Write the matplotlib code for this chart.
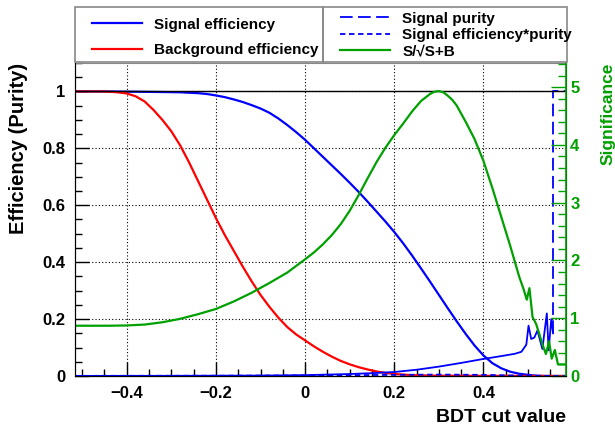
"""TMVA-style cut efficiency plot for the BDT classifier (efficiency, purity, significance)."""
import matplotlib
matplotlib.use("Agg")
import matplotlib.pyplot as plt
from matplotlib.patches import Rectangle
from matplotlib.ticker import MultipleLocator, FuncFormatter

plt.rcParams["font.family"] = ["Liberation Sans", "DejaVu Sans"]
plt.rcParams["font.weight"] = "bold"
plt.rcParams["axes.labelweight"] = "bold"

BLUE, RED, GREEN = "#0000ff", "#ff0000", "#00a000"

# values
sig_eff_x = [-0.516, -0.44, -0.38, -0.32, -0.28, -0.24, -0.22, -0.20, -0.18, -0.16, -0.14,
             -0.12, -0.10, -0.08, -0.06, -0.04, -0.02, 0.00, 0.02, 0.04, 0.06, 0.08, 0.10,
             0.12, 0.14, 0.16, 0.18, 0.20, 0.22, 0.24, 0.26, 0.28, 0.30, 0.32, 0.34, 0.36,
             0.38, 0.40, 0.42, 0.44, 0.46, 0.48, 0.50, 0.52, 0.54, 0.584]
sig_eff_y = [1.000, 1.000, 0.999, 0.998, 0.997, 0.994, 0.991, 0.986, 0.980, 0.972, 0.963,
             0.952, 0.940, 0.925, 0.905, 0.882, 0.857, 0.830, 0.800, 0.770, 0.740, 0.710, 0.679,
             0.647, 0.613, 0.578, 0.543, 0.506, 0.466, 0.423, 0.378, 0.332, 0.285, 0.238, 0.192,
             0.148, 0.107, 0.072, 0.045, 0.027, 0.015, 0.008, 0.004, 0.001, 0.0, 0.0]

bkg_eff_x = [-0.516, -0.46, -0.44, -0.42, -0.40, -0.38, -0.36, -0.34, -0.32, -0.30, -0.28,
             -0.26, -0.24, -0.22, -0.20, -0.18, -0.16, -0.14, -0.12, -0.10, -0.08, -0.06,
             -0.04, -0.02, 0.00, 0.02, 0.04, 0.06, 0.08, 0.10, 0.12, 0.14, 0.16, 0.18, 0.20,
             0.24, 0.30, 0.584]
bkg_eff_y = [1.000, 1.000, 0.999, 0.997, 0.993, 0.983, 0.965, 0.935, 0.900, 0.860, 0.810,
             0.750, 0.685, 0.620, 0.555, 0.495, 0.440, 0.385, 0.333, 0.285, 0.243, 0.205,
             0.172, 0.146, 0.125, 0.104, 0.085, 0.068, 0.053, 0.041, 0.031, 0.023, 0.016, 0.011, 0.007,
             0.003, 0.001, 0.0]

purity_x = [-0.516, -0.30, -0.10, 0.00, 0.05, 0.10, 0.15, 0.20, 0.25, 0.30, 0.35, 0.40,
            0.44, 0.47, 0.485, 0.496, 0.501, 0.507, 0.514, 0.521, 0.532, 0.542, 0.546,
            0.552, 0.556, 0.556, 0.584]
purity_y = [0.0003, 0.0006, 0.0015, 0.003, 0.005, 0.007, 0.010, 0.014, 0.022, 0.033, 0.046, 0.060,
            0.070, 0.078, 0.085, 0.110, 0.177, 0.130, 0.135, 0.160, 0.095, 0.220, 0.090,
            0.200, 0.150, 1.0, 1.0]

effpur_x = [-0.516, -0.20, 0.00, 0.20, 0.30, 0.40, 0.46, 0.52, 0.584]
effpur_y = [0.0005, 0.001, 0.002, 0.004, 0.005, 0.004, 0.002, 0.0005, 0.0]

signif_x = [-0.516, -0.44, -0.40, -0.36, -0.32, -0.28, -0.24, -0.20, -0.16, -0.12, -0.08,
            -0.04, 0.00, 0.02, 0.04, 0.06, 0.08, 0.10, 0.12, 0.14, 0.16, 0.18, 0.20, 0.22,
            0.24, 0.26, 0.28, 0.29, 0.30, 0.31, 0.32, 0.33, 0.34, 0.36, 0.38, 0.40, 0.42,
            0.44, 0.46, 0.48, 0.49, 0.497, 0.503, 0.51, 0.518, 0.525, 0.532, 0.54, 0.547,
            0.553, 0.56, 0.567, 0.584]
signif_y = [0.87, 0.87, 0.875, 0.89, 0.93, 0.99, 1.07, 1.16, 1.29, 1.44, 1.61,
            1.79, 2.02, 2.14, 2.28, 2.44, 2.63, 2.86, 3.13, 3.42, 3.70, 3.95, 4.17, 4.37,
            4.58, 4.76, 4.88, 4.92, 4.93, 4.91, 4.85, 4.78, 4.68, 4.40, 4.10, 3.72, 3.25,
            2.75, 2.25, 1.72, 1.50, 1.32, 1.52, 1.02, 0.90, 0.73, 0.55, 0.38, 0.60,
            0.30, 0.45, 0.20, 0.20]

n_solid = 25  # purity looks solid up to the last jump, dashed afterwards


def root_fmt(v, _pos):
    s = f"{round(v, 4):g}"
    return s.replace("-", "\u2212")


W, H = 615, 428
fig = plt.figure(figsize=(W / 100, H / 100), dpi=100)
ax = fig.add_axes([75 / W, 52 / H, 491 / W, 313 / H])

l_sig, = ax.plot(sig_eff_x, sig_eff_y, color=BLUE, lw=1.6)
l_bkg, = ax.plot(bkg_eff_x, bkg_eff_y, color=RED, lw=1.6)
ax.plot(purity_x[:n_solid], purity_y[:n_solid], color=BLUE, lw=1.3)
ax.plot(purity_x[n_solid - 1:], purity_y[n_solid - 1:], color=BLUE, lw=1.3, ls=(0, (7, 3)))
l_pur, = ax.plot([], [], color=BLUE, lw=1.3, ls=(0, (7, 3)))
l_ep, = ax.plot(effpur_x, effpur_y, color=BLUE, lw=1.3, ls=(0, (3, 2)))
ax.axhline(1.0, color="k", lw=1.0)

ax.set_xlim(-0.516, 0.585)
ax.set_ylim(0, 1.1)
ax.xaxis.set_major_locator(MultipleLocator(0.2))
ax.xaxis.set_minor_locator(MultipleLocator(0.05))
ax.yaxis.set_major_locator(MultipleLocator(0.2))
ax.yaxis.set_minor_locator(MultipleLocator(0.05))
ax.xaxis.set_major_formatter(FuncFormatter(root_fmt))
ax.yaxis.set_major_formatter(FuncFormatter(root_fmt))
ax.grid(which="major", color="k", lw=0.8, ls=(0, (1, 2)))
ax.tick_params(which="both", direction="in", top=False, right=False, labelsize=12)
ax.tick_params(which="major", length=10, width=1, pad=7)
ax.tick_params(which="minor", length=5, width=1)
ax.spines["top"].set_color("#888888")
ax.set_xlabel("BDT cut value", loc="right", fontsize=14, labelpad=6)
ax.set_ylabel("Efficiency (Purity)", loc="top", fontsize=14.5, labelpad=10)

ax2 = ax.twinx()
l_sb, = ax2.plot(signif_x, signif_y, color=GREEN, lw=1.6)
ax2.set_ylim(0, 5.417)
ax2.yaxis.set_major_locator(MultipleLocator(1))
ax2.yaxis.set_minor_locator(MultipleLocator(0.2))
ax2.yaxis.set_major_formatter(FuncFormatter(root_fmt))
ax2.spines["right"].set_color(GREEN)
ax2.spines["right"].set_linewidth(1.2)
ax2.spines["top"].set_visible(False)
ax2.tick_params(which="both", direction="in", colors=GREEN, labelsize=12, pad=3)
ax2.tick_params(which="major", length=11, width=1)
ax2.tick_params(which="minor", length=6, width=1)
ax2.set_ylabel("Significance", color=GREEN, loc="top", fontsize=12.5, labelpad=15)

# two legend boxes above the frame, ROOT style
for x0, x1 in [(75, 323), (323, 567)]:
    fig.patches.append(Rectangle((x0 / W, 1 - 62 / H), (x1 - x0) / W, 55 / H,
                                 transform=fig.transFigure, fill=False,
                                 edgecolor="#888888", lw=1.2))
fig.legend([l_sig, l_bkg], ["Signal efficiency", "Background efficiency"],
           loc="upper left", bbox_to_anchor=(84 / W, 1 - 10 / H), frameon=False,
           fontsize=11, borderpad=0, labelspacing=0.75, handlelength=3.3,
           handletextpad=0.8)
fig.legend([l_pur, l_ep, l_sb], ["Signal purity", "Signal efficiency*purity", "S/\u221aS+B"],
           loc="upper left", bbox_to_anchor=(332 / W, 1 - 4 / H), frameon=False,
           fontsize=11, borderpad=0, labelspacing=0.15, handlelength=3.3,
           handletextpad=0.8)

fig.savefig("out.png", dpi=100)
